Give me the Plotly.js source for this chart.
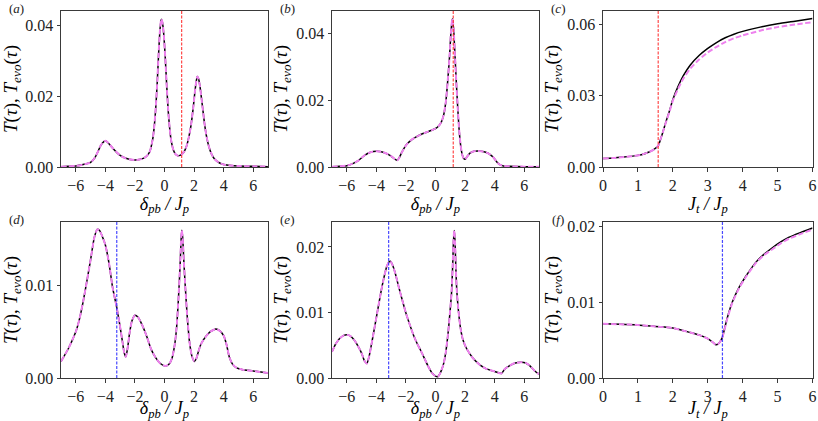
<!DOCTYPE html>
<html>
<head>
<meta charset="utf-8">
<script src="https://cdn.plot.ly/plotly-3.0.1.min.js"></script>
<style>
  html, body { margin: 0; padding: 0; background: #fff; }
  #chart { width: 818px; height: 421px; }
</style>
</head>
<body>
<div id="chart"></div>
<script>
// values

// (a) T(tau) vs delta_pb / J_p
const xA = [-7, -6.5, -6, -5.5, -5, -4.7, -4.5, -4.3, -4.1, -4.0, -3.9, -3.7, -3.5, -3.2, -3.0, -2.7, -2.4, -2.0, -1.7, -1.4, -1.2, -1.0, -0.8, -0.7, -0.6, -0.5, -0.4, -0.3, -0.22, -0.15, -0.05, 0.05, 0.15, 0.25, 0.35, 0.45, 0.6, 0.75, 0.9, 1.05, 1.2, 1.35, 1.5, 1.65, 1.8, 1.95, 2.05, 2.15, 2.22, 2.3, 2.4, 2.5, 2.6, 2.7, 2.85, 3.0, 3.2, 3.4, 3.7, 4.0, 4.5, 5, 6, 7];
const aT = [0.0001, 0.0002, 0.0003, 0.0007, 0.0013, 0.0027, 0.0044, 0.0062, 0.0072, 0.0074, 0.0072, 0.0063, 0.0053, 0.0040, 0.0033, 0.0026, 0.0022, 0.0020, 0.0021, 0.0025, 0.0031, 0.0043, 0.0078, 0.0112, 0.0162, 0.0232, 0.0318, 0.0390, 0.0418, 0.0411, 0.0375, 0.0310, 0.0230, 0.0160, 0.0110, 0.0075, 0.0048, 0.0036, 0.0032, 0.0033, 0.0037, 0.0045, 0.0060, 0.0085, 0.0120, 0.0170, 0.0210, 0.0243, 0.0256, 0.0250, 0.0228, 0.0195, 0.0160, 0.0125, 0.0085, 0.0058, 0.0035, 0.0022, 0.0012, 0.0007, 0.0004, 0.0003, 0.0002, 0.0001];

// (b)
const xB = [-7, -6.5, -6, -5.6, -5.2, -4.8, -4.4, -4.0, -3.6, -3.2, -2.9, -2.7, -2.58, -2.45, -2.3, -2.1, -1.9, -1.6, -1.3, -1.0, -0.6, -0.3, 0.0, 0.2, 0.4, 0.55, 0.7, 0.85, 0.95, 1.05, 1.14, 1.22, 1.3, 1.4, 1.5, 1.6, 1.7, 1.8, 1.9, 2.0, 2.15, 2.35, 2.6, 2.85, 3.1, 3.4, 3.7, 3.95, 4.15, 4.35, 4.6, 5, 6, 7];
const bT = [0.0001, 0.0002, 0.0004, 0.0010, 0.0020, 0.0035, 0.0044, 0.0047, 0.0045, 0.0038, 0.0029, 0.0022, 0.0020, 0.0028, 0.0042, 0.0058, 0.0070, 0.0082, 0.0090, 0.0097, 0.0104, 0.0109, 0.0115, 0.0122, 0.0135, 0.0155, 0.0195, 0.0270, 0.0330, 0.0405, 0.0443, 0.0415, 0.0350, 0.0260, 0.0180, 0.0110, 0.0065, 0.0038, 0.0026, 0.0023, 0.0032, 0.0042, 0.0047, 0.0048, 0.0047, 0.0044, 0.0037, 0.0027, 0.0015, 0.0007, 0.0003, 0.0002, 0.0001, 0.0001];

// (c) T(tau) vs J_t / J_p
const xC = [0, 0.3, 0.6, 0.9, 1.1, 1.3, 1.45, 1.58, 1.65, 1.72, 1.8, 1.9, 2.0, 2.15, 2.3, 2.5, 2.75, 3.0, 3.25, 3.5, 3.75, 4.0, 4.5, 5.0, 5.5, 6.0];
const cT = [0.0036, 0.0038, 0.0042, 0.0047, 0.0052, 0.0062, 0.0073, 0.0090, 0.0118, 0.0150, 0.0190, 0.0235, 0.0285, 0.0340, 0.0385, 0.0430, 0.0470, 0.0500, 0.0525, 0.0545, 0.0560, 0.0572, 0.0590, 0.0604, 0.0615, 0.0626];
const cTevo = [0.0036, 0.0038, 0.0042, 0.0047, 0.0052, 0.0062, 0.0073, 0.0090, 0.0118, 0.0150, 0.0188, 0.0232, 0.0280, 0.0330, 0.0373, 0.0415, 0.0453, 0.0483, 0.0507, 0.0527, 0.0543, 0.0555, 0.0575, 0.0590, 0.0601, 0.0611];

// (d)
const xD = [-7, -6.5, -6.0, -5.75, -5.5, -5.25, -5.0, -4.75, -4.55, -4.4, -4.2, -4.0, -3.75, -3.5, -3.25, -3.05, -2.85, -2.72, -2.62, -2.5, -2.35, -2.2, -2.0, -1.8, -1.5, -1.2, -0.9, -0.6, -0.3, 0.05, 0.3, 0.5, 0.68, 0.82, 0.95, 1.05, 1.12, 1.17, 1.23, 1.31, 1.41, 1.55, 1.7, 1.85, 2.02, 2.15, 2.3, 2.45, 2.62, 2.85, 3.08, 3.3, 3.48, 3.75, 4.0, 4.2, 4.38, 4.6, 4.88, 5.3, 6.0, 7.0];
const dT = [0.0018, 0.0032, 0.0050, 0.0064, 0.0083, 0.0105, 0.0128, 0.0152, 0.0161, 0.0160, 0.0153, 0.0144, 0.0124, 0.0097, 0.0078, 0.0060, 0.0040, 0.0027, 0.0023, 0.0032, 0.0050, 0.0062, 0.0068, 0.0066, 0.0057, 0.0045, 0.0031, 0.0022, 0.0016, 0.0013, 0.0015, 0.0021, 0.0035, 0.0055, 0.0088, 0.0120, 0.0148, 0.0160, 0.0152, 0.0126, 0.0098, 0.0064, 0.0038, 0.0024, 0.0018, 0.0021, 0.0029, 0.0036, 0.0041, 0.0046, 0.0050, 0.0052, 0.0053, 0.0051, 0.0046, 0.0036, 0.0023, 0.0015, 0.0011, 0.0009, 0.00076, 0.00054];

// (e)
const xE = [-7, -6.75, -6.5, -6.2, -6.0, -5.75, -5.5, -5.25, -5.0, -4.8, -4.65, -4.5, -4.3, -4.1, -3.9, -3.7, -3.5, -3.3, -3.15, -3.05, -2.9, -2.7, -2.5, -2.25, -2.0, -1.75, -1.5, -1.25, -1.0, -0.75, -0.5, -0.25, 0.0, 0.15, 0.35, 0.55, 0.7, 0.85, 0.97, 1.08, 1.16, 1.22, 1.27, 1.32, 1.38, 1.45, 1.55, 1.7, 1.86, 2.1, 2.54, 3.0, 3.44, 4.0, 4.46, 4.7, 5.02, 5.4, 5.81, 6.1, 6.37, 6.7, 6.93, 7.0];
const eT = [0.0040, 0.0052, 0.0060, 0.0065, 0.0066, 0.0064, 0.0058, 0.0049, 0.0038, 0.0026, 0.0022, 0.0032, 0.0055, 0.0080, 0.0105, 0.0130, 0.0152, 0.0170, 0.0177, 0.0178, 0.0172, 0.0158, 0.0140, 0.0119, 0.0099, 0.0082, 0.0066, 0.0053, 0.0042, 0.0030, 0.0018, 0.0008, 0.0003, 0.0002, 0.0009, 0.0022, 0.0040, 0.0068, 0.0098, 0.0128, 0.0170, 0.0210, 0.0225, 0.0208, 0.0165, 0.0130, 0.0103, 0.0075, 0.0058, 0.0045, 0.0030, 0.0020, 0.0014, 0.0010, 0.0007, 0.0014, 0.0019, 0.0023, 0.0024, 0.0023, 0.0019, 0.0011, 0.0007, 0.0006];

// (f)
const xF = [0, 0.5, 1.0, 1.5, 2.0, 2.5, 2.8, 3.0, 3.15, 3.23, 3.3, 3.38, 3.42, 3.47, 3.55, 3.7, 3.9, 4.1, 4.38, 4.6, 4.85, 5.1, 5.33, 5.65, 6.0];
const fT = [0.00715, 0.0071, 0.0070, 0.0068, 0.0066, 0.0060, 0.0056, 0.0052, 0.0047, 0.0044, 0.0045, 0.0050, 0.0054, 0.0063, 0.0078, 0.0100, 0.0120, 0.0135, 0.0153, 0.0163, 0.0172, 0.0180, 0.0186, 0.0192, 0.0198];
const fTevo = [0.00715, 0.0071, 0.0070, 0.0068, 0.0066, 0.0060, 0.0056, 0.0052, 0.0047, 0.0044, 0.0045, 0.0050, 0.0054, 0.0062, 0.0077, 0.0099, 0.0119, 0.0134, 0.0152, 0.0162, 0.0170, 0.0178, 0.0184, 0.0190, 0.0196];

// dashed vertical markers
const redX = [1.16, 1.2, 1.58];
const blueX = [-3.23, -3.17, 3.42];

// y ranges and ticks per panel
const yTop = [0.0441, 0.0466, 0.0658, 0.0169, 0.0238, 0.0206];
const yStep = [0.02, 0.02, 0.03, 0.01, 0.01, 0.01];
const labels = ['a', 'b', 'c', 'd', 'e', 'f'];

const panels = [
  [xA, aT, aT], [xB, bT, bT], [xC, cT, cTevo],
  [xD, dT, dT], [xE, eT, eT], [xF, fT, fTevo]
];

const serif = "'Liberation Serif', 'Times New Roman', serif";
const frame = '#3a3a3a';
const xDom = [[0.0746, 0.3276], [0.4059, 0.6589], [0.7372, 0.9933]];
const yDom = [[0.6033, 0.9739], [0.1021, 0.4727]];

const detTitle = '<i>δ</i><sub><i>pb</i></sub> <i>/ J</i><sub><i>p</i></sub>';
const jtTitle = '<i>J</i><sub><i>t</i></sub> <i>/ J</i><sub><i>p</i></sub>';
const yTitle = '<i>T</i>(<i>τ</i>), <i>T</i><sub><i>evo</i></sub>(<i>τ</i>)';

const data = [];
const layout = {
  width: 818, height: 421,
  margin: { l: 0, r: 0, t: 0, b: 0 },
  paper_bgcolor: '#fff', plot_bgcolor: '#fff',
  showlegend: false,
  font: { family: serif, size: 16, color: '#000' },
  shapes: [], annotations: []
};

panels.forEach((p, i) => {
  const n = i + 1;
  const xa = 'x' + (n === 1 ? '' : n);
  const ya = 'y' + (n === 1 ? '' : n);
  const sweep = (i % 3) === 2;
  data.push({
    x: p[0], y: p[1], xaxis: xa, yaxis: ya, type: 'scatter', mode: 'lines',
    line: { color: '#000', width: 1.5, shape: 'spline', smoothing: 0.6 }
  });
  data.push({
    x: p[0], y: p[2], xaxis: xa, yaxis: ya, type: 'scatter', mode: 'lines',
    line: { color: '#ee82ee', width: 2, dash: '5.5px,2.4px', shape: 'spline', smoothing: 0.6 }
  });

  const axBase = {
    showgrid: false, zeroline: false, showline: true, mirror: true,
    linecolor: frame, linewidth: 1, ticks: 'outside', ticklen: 3.5,
    tickcolor: frame, tickwidth: 1,
    tickfont: { family: serif, size: 16, color: '#222' }
  };
  layout['xaxis' + (n === 1 ? '' : n)] = Object.assign({}, axBase, {
    domain: xDom[i % 3], anchor: ya,
    range: sweep ? [0, 6] : [-7, 7], dtick: sweep ? 1 : 2, tick0: 0,
    title: { text: sweep ? jtTitle : detTitle, font: { family: serif, size: 18 }, standoff: 1 }
  });
  layout['yaxis' + (n === 1 ? '' : n)] = Object.assign({}, axBase, {
    domain: yDom[Math.floor(i / 3)], anchor: xa,
    range: [0, yTop[i]], dtick: yStep[i], tick0: 0, tickformat: '.2f',
    title: { text: yTitle, font: { family: serif, size: 19 }, standoff: 3 }
  });

  const isTop = i < 3;
  layout.shapes.push({
    type: 'line', xref: xa, yref: ya + ' domain',
    x0: isTop ? redX[i] : blueX[i - 3], x1: isTop ? redX[i] : blueX[i - 3], y0: 0, y1: 1,
    line: { color: isTop ? 'rgba(255,40,40,0.85)' : 'rgba(40,40,255,0.85)', width: 1.2, dash: '3px,1.5px' }
  });

  layout.annotations.push({
    text: '(<i>' + labels[i] + '</i>)', showarrow: false,
    xref: 'paper', yref: 'paper',
    x: (xDom[i % 3][0] * 818 - 45) / 818, y: (yDom[Math.floor(i / 3)][1] * 421 + 2) / 421,
    xanchor: 'center', yanchor: 'middle',
    font: { family: serif, size: 13, color: '#222' }
  });
});

Plotly.newPlot('chart', data, layout, { staticPlot: true });
</script>
</body>
</html>
